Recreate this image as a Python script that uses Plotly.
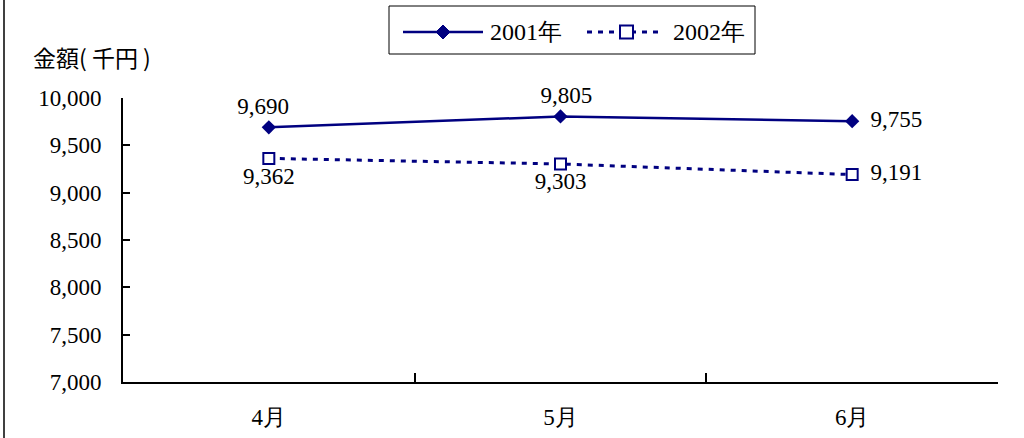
import plotly.graph_objects as go

months = ["4月", "5月", "6月"]
sales_2001 = [9690, 9805, 9755]
sales_2002 = [9362, 9303, 9191]
series_names = ["2001年", "2002年"]
y_ticks = [7000, 7500, 8000, 8500, 9000, 9500, 10000]

NAVY = "#000080"
FONT = "Liberation Serif"
CJK = "Noto Sans CJK JP"

W, H = 1024, 438
def px(x):
    return x / W
def py(y):
    return 1 - y / H

def fmt(v):
    return f"{v:,}"

NB = "\u00a0"
TH = "\u2009"
# small label nudges (leading / trailing spaces), matching the reference placement
text_2001 = [fmt(sales_2001[0]) + NB + NB, NB + NB + fmt(sales_2001[1]), NB + TH + fmt(sales_2001[2])]
text_2002 = [fmt(sales_2002[0]), fmt(sales_2002[1]), NB + TH + fmt(sales_2002[2])]

fig = go.Figure()
fig.add_trace(go.Scatter(
    x=months, y=sales_2001, name=series_names[0], mode="lines+markers+text",
    line=dict(color=NAVY, width=2.5),
    marker=dict(symbol="diamond", size=11, color=NAVY),
    text=text_2001,
    textposition=["top center", "top center", "middle right"],
    textfont=dict(family=FONT, size=23, color="black"),
    cliponaxis=False,
))
fig.add_trace(go.Scatter(
    x=months, y=sales_2002, name=series_names[1], mode="lines+markers+text",
    line=dict(color=NAVY, width=3, dash="5px,6px"),
    marker=dict(symbol="square", size=11, color="white", line=dict(width=2, color=NAVY)),
    text=text_2002,
    textposition=["bottom center", "bottom center", "middle right"],
    textfont=dict(family=FONT, size=23, color="black"),
    cliponaxis=False,
))

# custom legend (decoration)
shapes = [
    dict(type="rect", xref="paper", yref="paper", x0=px(389), x1=px(755), y0=py(54), y1=py(6),
         line=dict(color="black", width=1), fillcolor="white", layer="above"),
    dict(type="line", xref="paper", yref="paper", x0=px(403), x1=px(483), y0=py(32), y1=py(32),
         line=dict(color=NAVY, width=2.5), layer="above"),
    dict(type="path", xref="paper", yref="paper",
         path=f"M{px(436)},{py(32)} L{px(443)},{py(25)} L{px(450)},{py(32)} L{px(443)},{py(39)} Z",
         fillcolor=NAVY, line=dict(color=NAVY, width=1), layer="above"),
    dict(type="line", xref="paper", yref="paper", x0=px(587), x1=px(663), y0=py(32), y1=py(32),
         line=dict(color=NAVY, width=3, dash="5px,6px"), layer="above"),
    dict(type="rect", xref="paper", yref="paper", x0=px(620), x1=px(633), y0=py(38.5), y1=py(25.5),
         fillcolor="white", line=dict(color=NAVY, width=2), layer="above"),
    # left frame edge
    dict(type="line", xref="paper", yref="paper", x0=px(4), x1=px(4), y0=0, y1=1,
         line=dict(color="black", width=1.5)),
]

annotations = [
    dict(text=series_names[0], xref="paper", yref="paper", x=px(488), y=py(32),
         xanchor="left", yanchor="middle", showarrow=False,
         font=dict(family=FONT, size=24, color="black")),
    dict(text=series_names[1], xref="paper", yref="paper", x=px(671), y=py(32),
         xanchor="left", yanchor="middle", showarrow=False,
         font=dict(family=FONT, size=24, color="black")),
    dict(text="金額( 千円 )", xref="paper", yref="paper", x=px(31), y=py(57),
         xanchor="left", yanchor="middle", showarrow=False,
         font=dict(family=CJK, size=23, color="black")),
]

fig.update_layout(
    width=W, height=H,
    margin=dict(l=0, r=0, t=0, b=0, autoexpand=False),
    paper_bgcolor="white", plot_bgcolor="white",
    font=dict(family=FONT, size=23, color="black"),
    showlegend=False,
    xaxis=dict(
        type="category", range=[-0.5, 2.5], tickson="boundaries",
        domain=[px(123), px(998)],
        ticks="inside", ticklen=9, tickwidth=1.5, tickcolor="black",
        showline=True, linecolor="black", linewidth=2,
        showgrid=False, zeroline=False,
        tickfont=dict(family=FONT, size=23), ticklabelstandoff=13,
    ),
    yaxis=dict(
        range=[7000, 10000], tickvals=y_ticks, tickformat=",",
        domain=[py(382), py(98)],
        ticks="inside", ticklen=7, tickwidth=1.5, tickcolor="black",
        showline=True, linecolor="black", linewidth=2,
        showgrid=False, zeroline=False,
        tickfont=dict(family=FONT, size=23), ticklabelstandoff=15,
    ),
    shapes=shapes,
    annotations=annotations,
)

fig.write_html("out.html")
